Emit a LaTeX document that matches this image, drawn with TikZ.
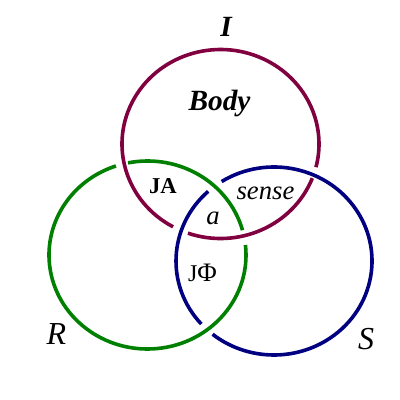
\documentclass[tikz,border=0pt]{standalone}
\usepackage{fontspec}
\setmainfont{Liberation Serif}
\begin{document}
\begin{tikzpicture}[x=0.75pt,y=-0.75pt,
  ring/.style={line width=2.7pt},
  pur/.style={ring,color=ringpur},
  grn/.style={ring,color=ringgrn},
  blu/.style={ring,color=ringblu},
  lbl/.style={inner sep=0pt,anchor=base}]
\definecolor{ringpur}{HTML}{800040}
\definecolor{ringgrn}{HTML}{008000}
\definecolor{ringblu}{HTML}{000080}
\useasboundingbox (0,0) rectangle (400,400);
\fill[white] (0,0) rectangle (400,400);
\coordinate (cI) at (220.5,144);
\coordinate (cR) at (147.5,255);
\coordinate (cS) at (274,261);
% purple ring I (under blue)
\draw[pur] (cI) ++(21.2:98.5 and 94.5) arc[start angle=21.2,end angle=109.3,x radius=98.5,y radius=94.5];
\draw[pur] (cI) ++(118.8:98.5 and 94.5) arc[start angle=118.8,end angle=374.2,x radius=98.5,y radius=94.5];
% green ring R (under purple)
\draw[grn] (cR) ++(-6.1:98.5 and 94) arc[start angle=-6.1,end angle=251.3,x radius=98.5,y radius=94];
\draw[grn] (cR) ++(258.6:98.5 and 94) arc[start angle=258.6,end angle=344.7,x radius=98.5,y radius=94];
% blue ring S (under green)
\draw[blu] (cS) ++(137.9:98 and 94) arc[start angle=137.9,end angle=227.8,x radius=98,y radius=94];
\draw[blu] (cS) ++(237.7:98 and 94) arc[start angle=237.7,end angle=488.8,x radius=98,y radius=94];
% labels
\node[lbl,font=\fontsize{22}{24}\selectfont\bfseries\itshape] (tI) at (226,36) {I};
\node[lbl,font=\fontsize{22}{24}\selectfont\bfseries\itshape] (tBody) at (219.5,110) {Body};
\node[lbl,font=\fontsize{17}{19}\selectfont\bfseries] (tJA) at (163,193) {JA};
\node[lbl,font=\fontsize{20}{22}\selectfont\itshape] (tsense) at (265.5,199) {sense};
\node[lbl,font=\fontsize{20}{22}\selectfont\itshape] (ta) at (213,224) {a};
\node[lbl,font=\fontsize{18}{20}\selectfont] (tJP) at (202.5,281) {J\fontsize{20}{22}\selectfont Φ};
\node[lbl,font=\fontsize{24}{26}\selectfont\itshape] (tR) at (56.5,344) {R};
\node[lbl,font=\fontsize{24}{26}\selectfont\itshape] (tS) at (366,349) {S};
\end{tikzpicture}
\end{document}
